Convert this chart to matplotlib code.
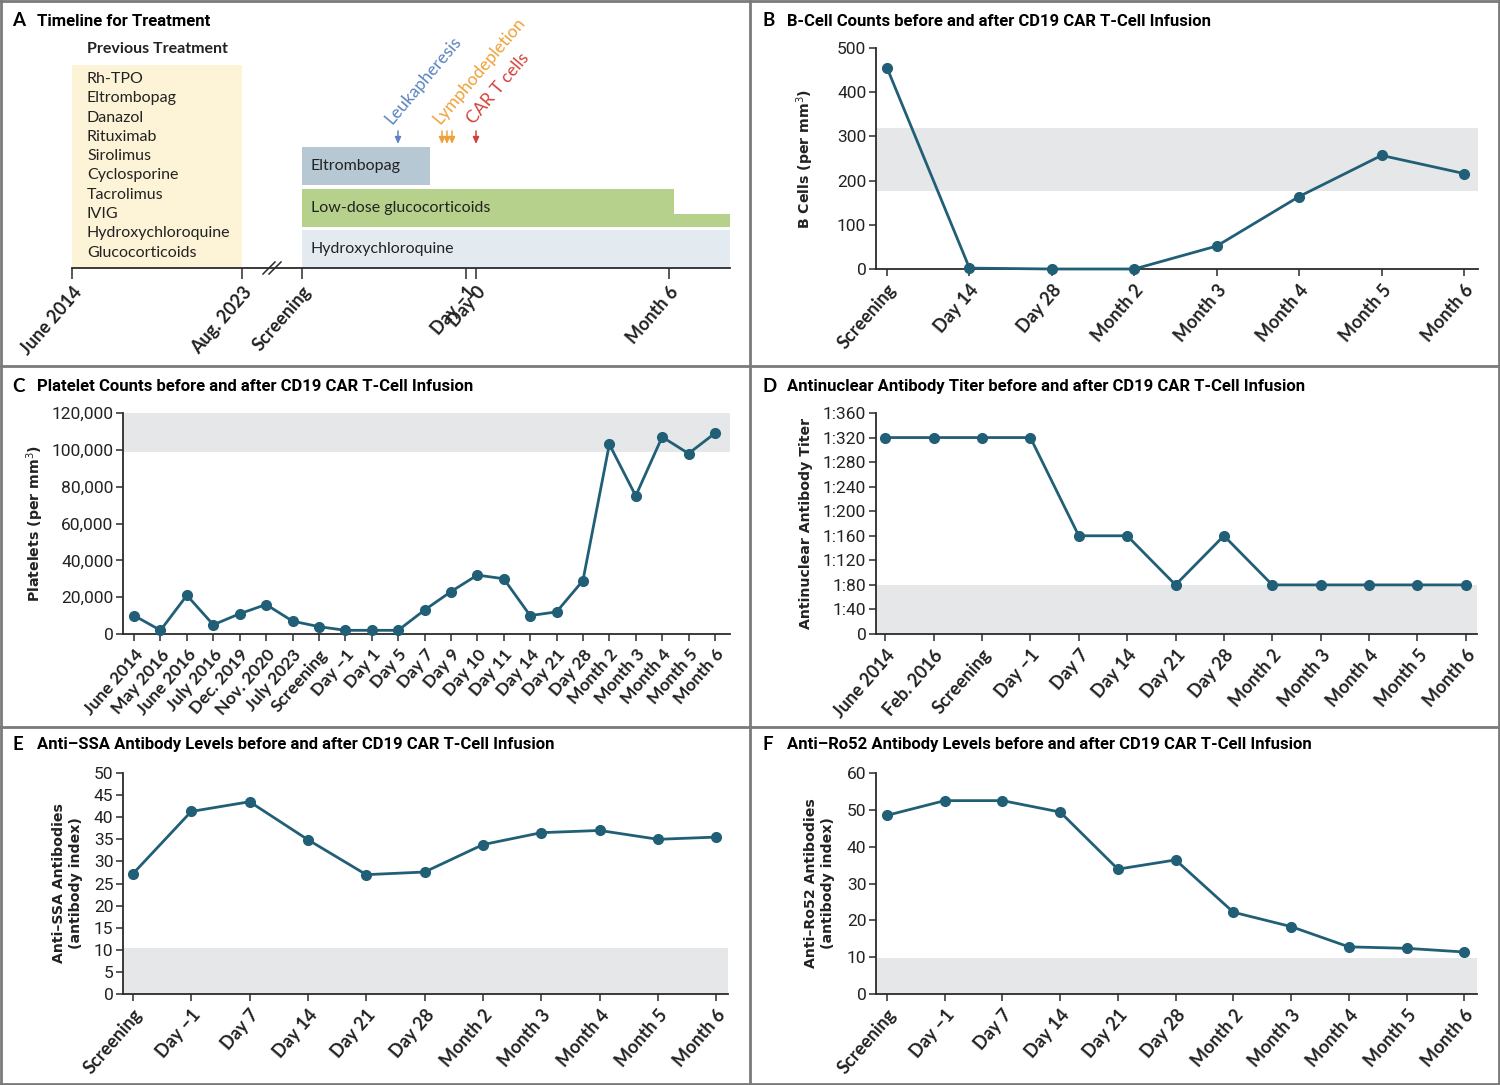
import matplotlib
matplotlib.use("Agg")
import matplotlib.pyplot as plt
from matplotlib import font_manager
from matplotlib.lines import Line2D

# pick fonts that exist
names = {f.name for f in font_manager.fontManager.ttflist}
NARROW = "Liberation Sans Narrow" if "Liberation Sans Narrow" in names else "Roboto"
HUMAN = "Lato" if "Lato" in names else "DejaVu Sans"
FB = [NARROW, "DejaVu Sans"]
FH = [HUMAN, "DejaVu Sans"]

LINE = "#215f77"
BAND = "#e6e7e8"
SPINE = "#2b2b2b"
BORDER = "#7a7a7a"
ROT = 49

# ---------------- data ----------------
# A: timeline (positions in timeline units)
tl_labels = ["June 2014", "Aug. 2023", "Screening", "Day \u20131", "Day 0", "Month 6"]
tl_pos = [0, 170, 230, 394, 404, 597]
tl_end = 658
prev_treatments = ["Rh-TPO", "Eltrombopag", "Danazol", "Rituximab", "Sirolimus",
                   "Cyclosporine", "Tacrolimus", "IVIG", "Hydroxychloroquine",
                   "Glucocorticoids"]
bar_names = ["Hydroxychloroquine", "Low-dose glucocorticoids", "Eltrombopag"]
bar_start = [230, 230, 230]
bar_end = [658, 602, 358]
bar_colors = ["#e3ebf1", "#b6d18b", "#b5c8d3"]
taper_start, taper_end = 602, 658
event_names = ["Leukapheresis", "Lymphodepletion", "CAR T cells"]
event_pos = [[326], [370, 375, 380], [404]]
event_text_x = [322, 370, 404]
event_colors = ["#5b84c0", "#eea23a", "#d2423a"]

# B: B-cell counts
b_labels = ["Screening", "Day 14", "Day 28", "Month 2", "Month 3", "Month 4", "Month 5", "Month 6"]
b_values = [455, 2, 0, 0, 52, 164, 257, 216]
b_band = (176, 320)

# C: platelets
c_labels = ["June 2014", "May 2016", "June 2016", "July 2016", "Dec. 2019", "Nov. 2020",
            "July 2023", "Screening", "Day \u20131", "Day 1", "Day 5", "Day 7", "Day 9",
            "Day 10", "Day 11", "Day 14", "Day 21", "Day 28", "Month 2", "Month 3",
            "Month 4", "Month 5", "Month 6"]
c_values = [10000, 2000, 21000, 5000, 11000, 16000, 7000, 4000, 2000, 2000, 2000, 13000,
            23000, 32000, 30000, 10000, 12000, 29000, 103000, 75000, 107000, 98000, 109000]
c_band = (99000, 120500)

# D: ANA titer (reciprocal)
d_labels = ["June 2014", "Feb. 2016", "Screening", "Day \u20131", "Day 7", "Day 14", "Day 21",
            "Day 28", "Month 2", "Month 3", "Month 4", "Month 5", "Month 6"]
d_values = [320, 320, 320, 320, 160, 160, 80, 160, 80, 80, 80, 80, 80]
d_band = (0, 80)

# E: anti-SSA
e_labels = ["Screening", "Day \u20131", "Day 7", "Day 14", "Day 21", "Day 28", "Month 2",
            "Month 3", "Month 4", "Month 5", "Month 6"]
e_values = [27.2, 41.3, 43.5, 34.9, 27.0, 27.6, 33.8, 36.5, 37.0, 35.0, 35.5]
e_band = (0, 10.3)

# F: anti-Ro52
f_labels = e_labels
f_values = [48.5, 52.5, 52.5, 49.4, 33.9, 36.4, 22.2, 18.3, 12.8, 12.4, 11.4]
f_band = (0, 9.8)

# ---------------- figure ----------------
W, H = 1500, 1085
fig = plt.figure(figsize=(W / 100, H / 100), dpi=100)


def px_axes(l, t, r, b):
    return fig.add_axes([l / W, 1 - b / H, (r - l) / W, (b - t) / H])


def fig_text(x, y, s, **kw):
    fig.text(x / W, 1 - y / H, s, **kw)


def panel_title(x, y, letter, title):
    fig_text(x, y, letter, fontsize=13.5, fontweight="bold", family=FH, va="center")
    fig_text(x + 25, y, title, fontsize=12, fontweight="bold", family=FB, va="center")


def line_panel(ax, labels, values, band, ylim, yticks, yticklabels, xl, ylabel, lab_x,
               xfs=13):
    x = list(range(len(values)))
    ax.axhspan(band[0], band[1], color=BAND, zorder=0, lw=0)
    ax.plot(x, values, color=LINE, lw=2.0, marker="o", ms=7, zorder=3, clip_on=False)
    ax.set_xlim(*xl)
    ax.set_ylim(*ylim)
    ax.set_yticks(yticks)
    ax.set_yticklabels(yticklabels, family=FB, fontsize=12.5, color="#222222")
    ax.set_xticks(x)
    ax.set_xticklabels(labels, rotation=ROT, ha="right", va="top", rotation_mode="anchor",
                       family=FH, fontsize=xfs, fontweight="bold", color="#222222")
    for s in ["top", "right"]:
        ax.spines[s].set_visible(False)
    for s in ["left", "bottom"]:
        ax.spines[s].set_color(SPINE)
        ax.spines[s].set_linewidth(1.3)
    ax.spines["left"].set_bounds(ylim[0], ylim[1])
    ax.tick_params(axis="both", color=SPINE, width=1.1, length=5, pad=2)
    ax.tick_params(axis="x", pad=4)
    ax.set_ylabel(ylabel, family=["DejaVu Sans"], fontweight="bold", fontsize=10.2,
                  linespacing=1.25, color="#222222")
    ax.yaxis.set_label_coords(lab_x, 0.5)
    ax.set_facecolor("none")


# ---------------- panel A ----------------
axA = px_axes(72, 30, 730, 268)
axA.set_xlim(0, tl_end)
axA.set_ylim(0, 238)
axA.add_patch(plt.Rectangle((0, 0), tl_pos[1], 203, color="#fdf3d7", lw=0))
for i, t in enumerate(prev_treatments):
    axA.text(15, 189 - i * 19.3, t, family=FH, fontsize=11.5, va="center", color="#222222")
fig_text(157, 49, "Previous Treatment", family=FH, fontsize=11.5, fontweight="bold",
         ha="center", va="center", color="#222222")

row_bottom = [0, 41, 83]
row_h = 38
for i, name in enumerate(bar_names):
    axA.add_patch(plt.Rectangle((bar_start[i], row_bottom[i]), bar_end[i] - bar_start[i],
                                row_h, color=bar_colors[i], lw=0))
    axA.text(bar_start[i] + 9, row_bottom[i] + row_h / 2, name, family=FH, fontsize=11.5,
             va="center", color="#222222")
axA.add_patch(plt.Rectangle((taper_start, row_bottom[1]), taper_end - taper_start, 13,
                            color=bar_colors[1], lw=0))

for name, xs, tx, col in zip(event_names, event_pos, event_text_x, event_colors):
    for xv in xs:
        axA.annotate("", xy=(xv, 124), xytext=(xv, 137),
                     arrowprops=dict(arrowstyle="-|>,head_length=0.4,head_width=0.18",
                                     color=col, lw=1.1, shrinkA=0, shrinkB=0))
    axA.text(tx, 141, name, rotation=50, rotation_mode="anchor", ha="left", va="bottom",
             color=col, family=FH, fontsize=12.5)

for s in ["top", "right", "left"]:
    axA.spines[s].set_visible(False)
axA.spines["bottom"].set_color(SPINE)
axA.spines["bottom"].set_linewidth(1.3)
axA.set_yticks([])
axA.set_xticks(tl_pos)
axA.set_xticklabels(tl_labels, rotation=ROT, ha="right", va="top", rotation_mode="anchor",
                    family=FH, fontsize=13, fontweight="bold", color="#222222")
axA.tick_params(axis="x", length=8, width=1.1, color=SPINE, pad=3)
# axis break marks
for dx in (0, 6):
    axA.add_line(Line2D([191 + dx, 203 + dx], [-6, 6], color=SPINE, lw=1.1, clip_on=False))
axA.set_facecolor("none")

panel_title(12, 21, "A", "Timeline for Treatment")

# ---------------- panel B ----------------
axB = px_axes(876, 48, 1478, 269)
line_panel(axB, b_labels, b_values, b_band, (0, 500), list(range(0, 501, 100)),
           [str(v) for v in range(0, 501, 100)], (-0.134, 7.17),
           "B Cells (per mm$^3$)", -0.10)
panel_title(762, 21, "B", "B-Cell Counts before and after CD19 CAR T-Cell Infusion")

# ---------------- panel C ----------------
axC = px_axes(123, 413, 730, 634)
c_ticks = list(range(0, 120001, 20000))
line_panel(axC, c_labels, c_values, c_band, (0, 120000), c_ticks,
           [f"{v:,}" for v in c_ticks], (-0.42, 22.57),
           "Platelets (per mm$^3$)", -0.127, xfs=12.5)
panel_title(12, 387, "C", "Platelet Counts before and after CD19 CAR T-Cell Infusion")

# ---------------- panel D ----------------
axD = px_axes(876, 413, 1477, 634)
d_ticks = list(range(0, 361, 40))
line_panel(axD, d_labels, d_values, d_band, (0, 360), d_ticks,
           ["0"] + [f"1:{v}" for v in d_ticks[1:]], (-0.19, 12.23),
           "Antinuclear Antibody Titer", -0.105)
panel_title(762, 387, "D", "Antinuclear Antibody Titer before and after CD19 CAR T-Cell Infusion")

# ---------------- panel E ----------------
axE = px_axes(123, 773, 728, 994)
e_ticks = list(range(0, 51, 5))
line_panel(axE, e_labels, e_values, e_band, (0, 50), e_ticks,
           [str(v) for v in e_ticks], (-0.17, 10.2),
           "Anti\u2013SSA Antibodies\n(antibody index)", -0.066)
panel_title(12, 745, "E", "Anti\u2013SSA Antibody Levels before and after CD19 CAR T-Cell Infusion")

# ---------------- panel F ----------------
axF = px_axes(876, 773, 1477, 994)
f_ticks = list(range(0, 61, 10))
line_panel(axF, f_labels, f_values, f_band, (0, 60), f_ticks,
           [str(v) for v in f_ticks], (-0.19, 10.22),
           "Anti\u2013Ro52 Antibodies\n(antibody index)", -0.068)
panel_title(762, 745, "F", "Anti\u2013Ro52 Antibody Levels before and after CD19 CAR T-Cell Infusion")

# ---------------- panel borders ----------------
border = dict(color=BORDER, lw=2, transform=fig.transFigure)
fig.add_artist(Line2D([1 / W, 1 - 1 / W], [1 - 1 / H, 1 - 1 / H], **border))
fig.add_artist(Line2D([1 / W, 1 - 1 / W], [1 / H, 1 / H], **border))
fig.add_artist(Line2D([1 / W, 1 / W], [1 / H, 1 - 1 / H], **border))
fig.add_artist(Line2D([1 - 1 / W, 1 - 1 / W], [1 / H, 1 - 1 / H], **border))
fig.add_artist(Line2D([750 / W, 750 / W], [1 / H, 1 - 1 / H], **border))
for yb in (366, 727):
    fig.add_artist(Line2D([0, 1], [1 - yb / H, 1 - yb / H], **border))

fig.savefig("out.png", dpi=100)
